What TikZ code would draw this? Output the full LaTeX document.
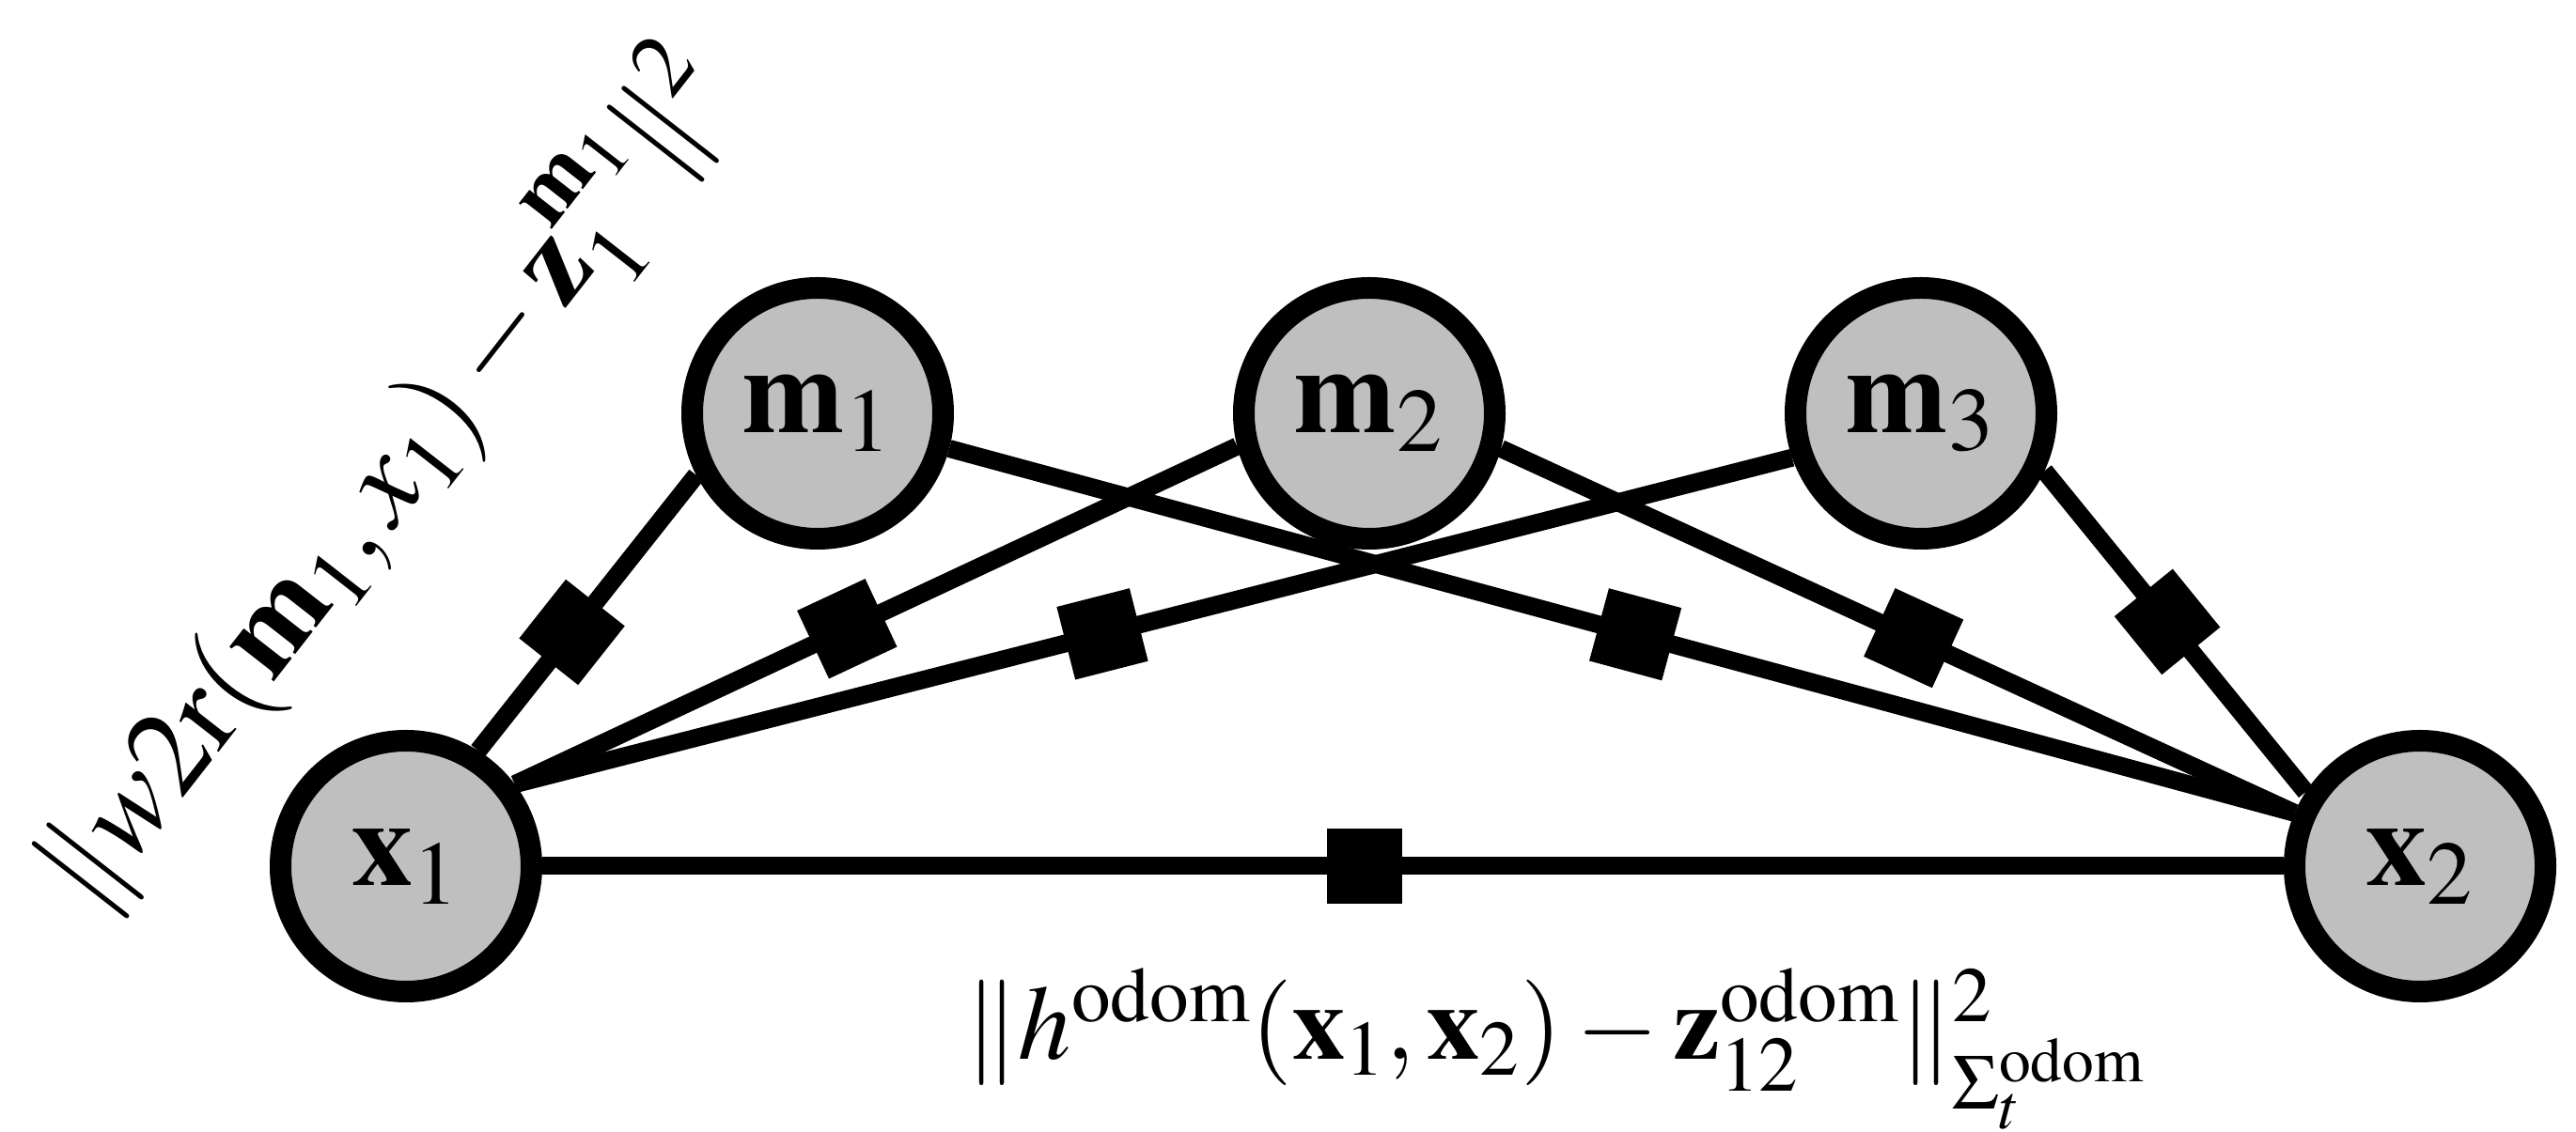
\documentclass[tikz,border=0pt]{standalone}
\usepackage{mathptmx}
\usetikzlibrary{positioning}

\definecolor{nodegray}{RGB}{191,191,191}
\newcommand{\biglab}{\fontsize{37}{44}\selectfont}
\newcommand{\odomlab}{\fontsize{32}{38}\selectfont}

\begin{document}
\begin{tikzpicture}[
  every node/.style={inner sep=1.5pt},
  varnode/.style={circle,draw=black,fill=nodegray,line width=0.23cm,minimum size=2.67cm,inner sep=0pt,font=\biglab},
  factor/.style={rectangle,fill=black,minimum size=0.8cm,inner sep=0pt,sloped},
  edge/.style={line width=0.19cm},
  lab/.style={font=\biglab,inner sep=0pt},
]
  \useasboundingbox (0,0) rectangle (27.41,-12.05);
  % ============ variables ============
  \node[varnode] (x1) at (4.32,-9.22) {$\mathbf{x}_1$};
  \node[varnode] (x2) at (25.75,-9.22) {$\mathbf{x}_2$};
  \node[varnode] (m1) at (8.70,-4.40) {$\mathbf{m}_1$};
  \node[varnode] (m2) at (14.57,-4.40) {$\mathbf{m}_2$};
  \node[varnode] (m3) at (20.44,-4.40) {$\mathbf{m}_3$};
  % ============ factors from x1 ============
  \draw[edge] (x1.58) -- node[factor,pos=0.43] (fx1m1) {} (m1.207);
  \draw[edge] (x1.37) -- node[factor,pos=0.46] (fx1m2) {} (m2.194);
  \draw[edge] (x1.37) -- node[factor,pos=0.46] (fx1m3) {} (m3.199);
  % ============ factors to x2 ============
  \draw[edge] (m1.345) -- node[factor,pos=0.51] (fm1x2) {} (x2.157);
  \draw[edge] (m2.345) -- node[factor,pos=0.52] (fm2x2) {} (x2.157);
  \draw[edge] (m3.335) -- node[factor,pos=0.47] (fm3x2) {} (x2.147);
  % odometry
  \draw[edge] (x1.east) -- node[factor,pos=0.472] (fodom) {} (x2.west);
  % labels
  \node[lab,anchor=base,rotate=52] (lobs) at (4.41,-5.35)
    {$\|w2\mathrm{r}(\mathbf{m}_1,x_1)-\mathbf{z}_1^{\mathbf{m}_1}\|^2$};
  \node[lab,font=\odomlab,anchor=base] (lodom) at (16.56,-11.28)
    {$\|h^{\mathrm{odom}}(\mathbf{x}_1,\mathbf{x}_2)-\mathbf{z}^{\mathrm{odom}}_{12}\|^2_{\Sigma_t^{\mathrm{odom}}}$};
\end{tikzpicture}
\end{document}
